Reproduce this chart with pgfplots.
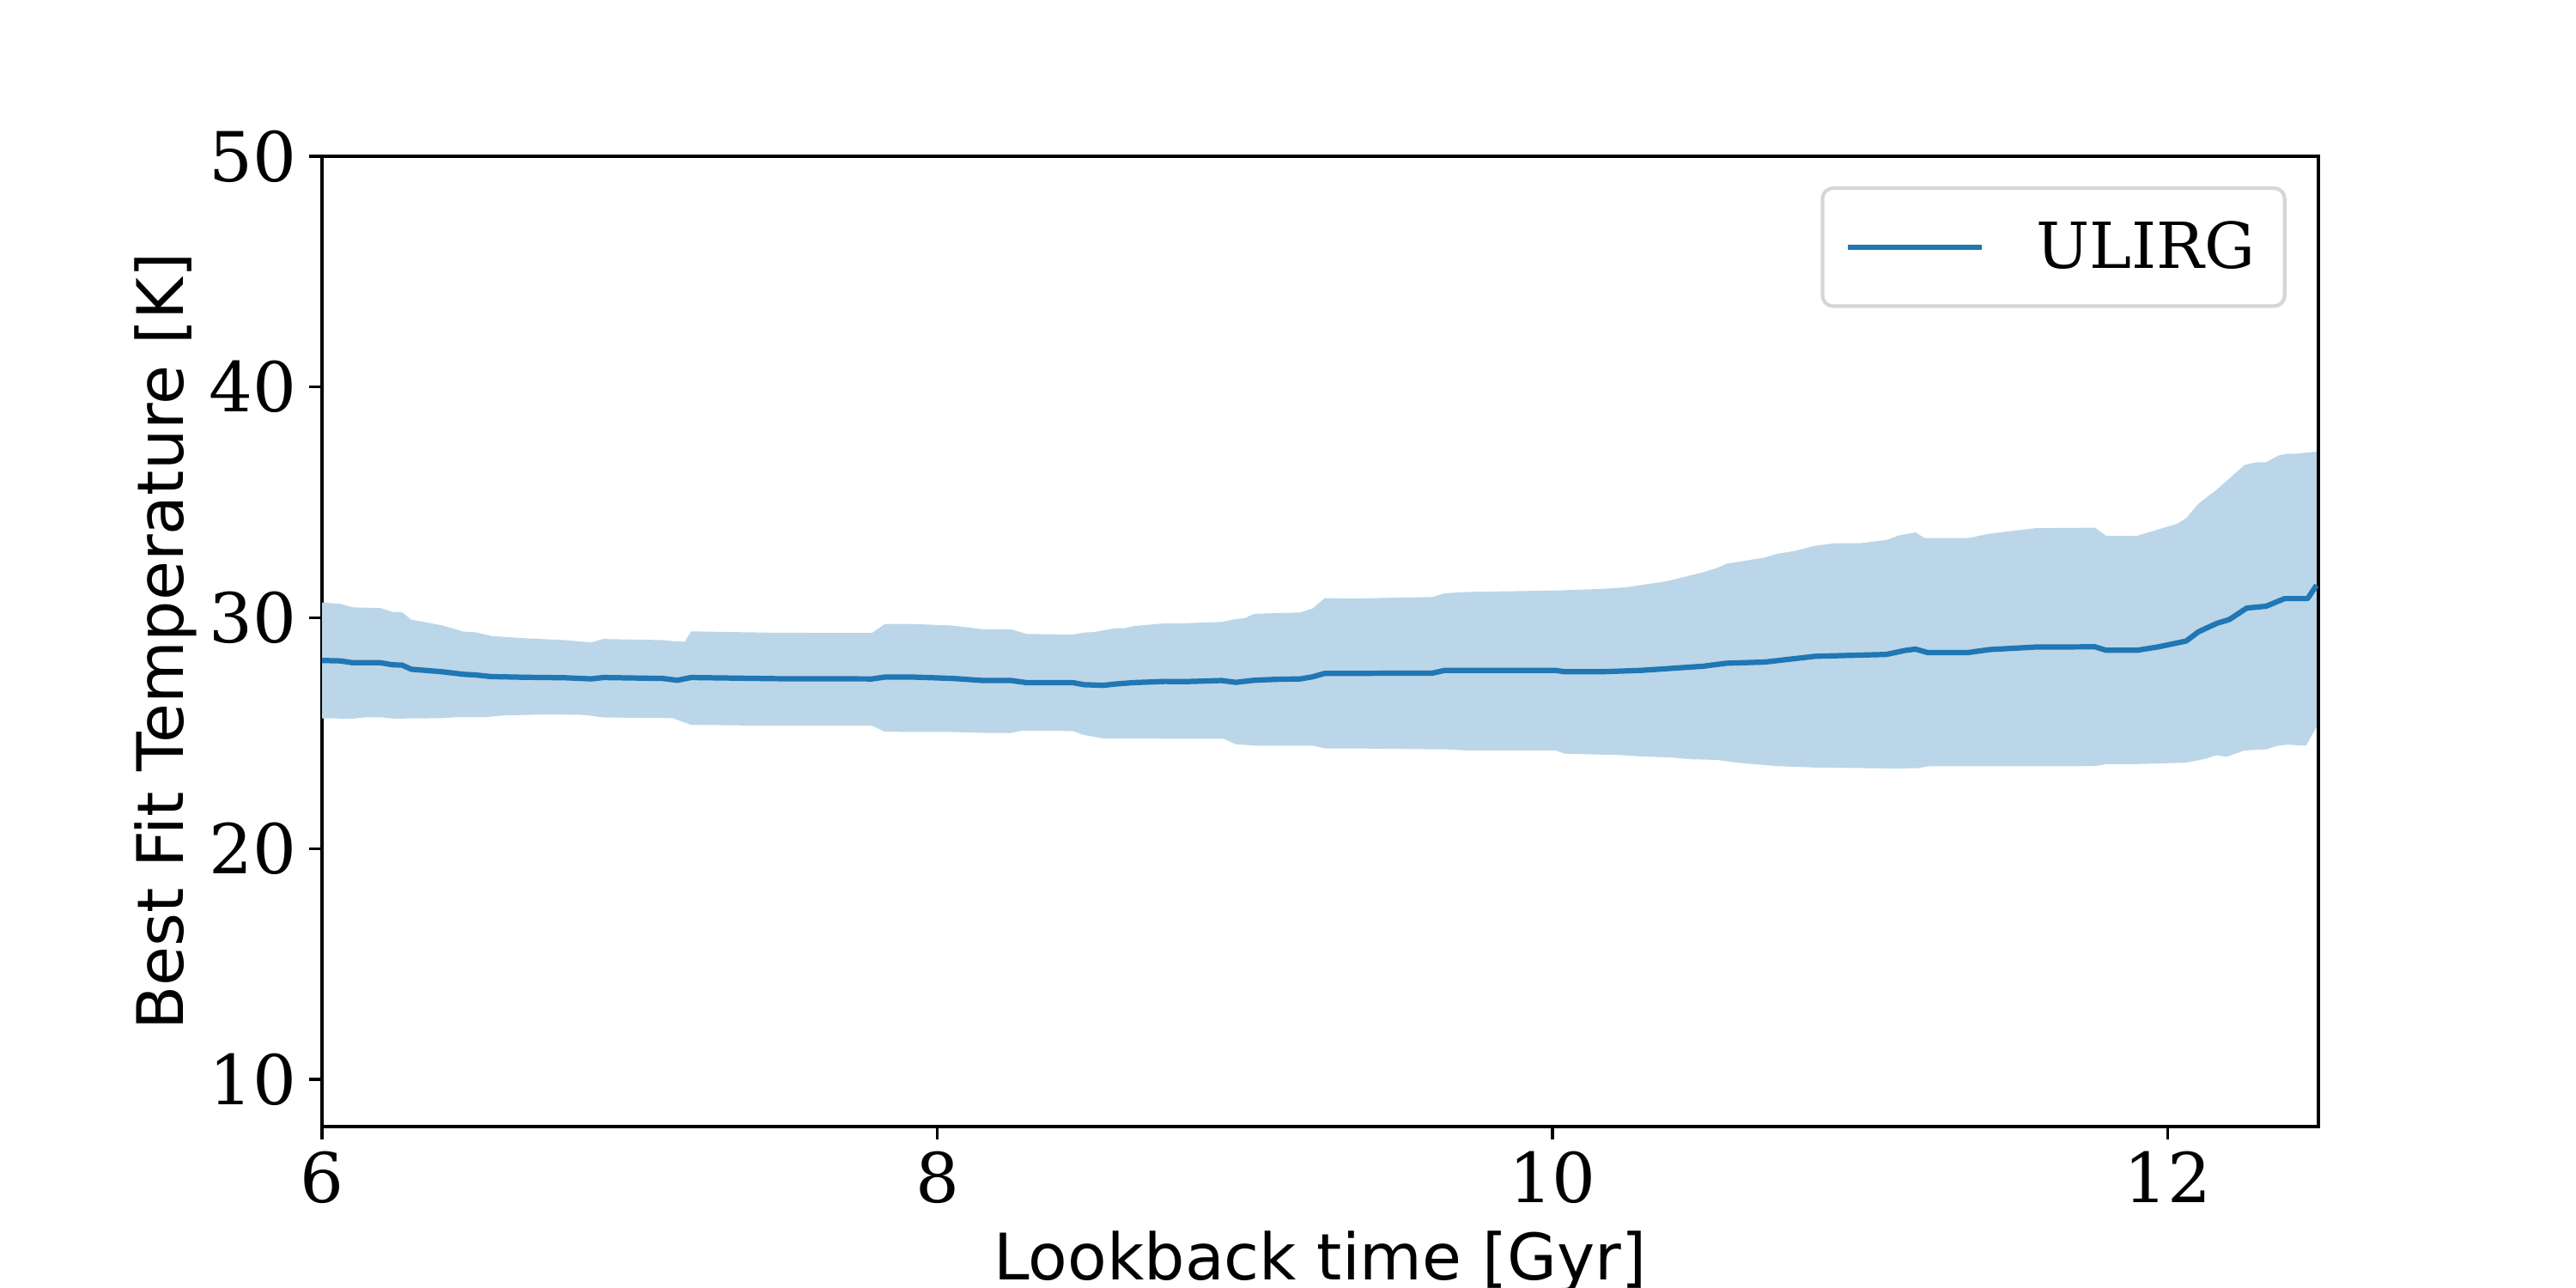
\documentclass[border=0pt]{standalone}
\usepackage{fontspec}
\setmainfont{DejaVu Serif}
\newfontfamily\labelfont{DejaVu Sans}
\usepackage{pgfplots}
\usepackage{pgfplotstable}
\pgfplotsset{compat=1.18}
\usepgfplotslibrary{fillbetween}
\definecolor{cULIRG}{HTML}{1F77B4}
\definecolor{cBand}{HTML}{BBD6E8}

% upper edge of the band
\pgfplotstableread{
t      T
6.00   30.66
6.06   30.60
6.10   30.45
6.19   30.42
6.23   30.25
6.26   30.24
6.29   29.92
6.39   29.67
6.46   29.40
6.50   29.37
6.55   29.21
6.66   29.11
6.79   29.03
6.875  28.93
6.915  29.08
7.107  29.03
7.155  28.97
7.18   28.97
7.20   29.41
7.476  29.35
7.788  29.34
7.83   29.73
7.92   29.73
8.05   29.66
8.15   29.50
8.24   29.50
8.29   29.30
8.44   29.27
8.477  29.36
8.51   29.38
8.58   29.55
8.61   29.55
8.64   29.64
8.74   29.76
8.80   29.76
8.925  29.82
8.97   29.94
9.00   29.98
9.03   30.17
9.10   30.20
9.18   30.23
9.22   30.40
9.26   30.85
9.35   30.83
9.61   30.90
9.65   31.06
9.73   31.12
10.01  31.18
10.16  31.25
10.24  31.32
10.37  31.58
10.49  31.97
10.534 32.15
10.566 32.34
10.69  32.61
10.73  32.77
10.79  32.90
10.854 33.12
10.92  33.23
11.00  33.23
11.085 33.37
11.13  33.58
11.18  33.70
11.21  33.45
11.35  33.45
11.42  33.64
11.48  33.74
11.57  33.88
11.764 33.90
11.80  33.55
11.90  33.55
11.97  33.83
12.03  34.07
12.06  34.32
12.10  34.94
12.16  35.56
12.25  36.62
12.29  36.74
12.32  36.74
12.36  37.03
12.39  37.11
12.42  37.11
12.484 37.20
}\hitab

% lower edge of the band
\pgfplotstableread{
t      T
6.00   25.64
6.10   25.63
6.146  25.69
6.19   25.69
6.23   25.63
6.39   25.65
6.45   25.70
6.53   25.69
6.594  25.77
6.739  25.81
6.851  25.79
6.915  25.68
7.14   25.65
7.20   25.36
7.476  25.32
7.788  25.32
7.83   25.06
8.05   25.05
8.15   25.01
8.24   25.01
8.277  25.11
8.44   25.09
8.477  24.92
8.54   24.77
8.73   24.76
8.93   24.76
8.97   24.52
9.03   24.46
9.22   24.46
9.26   24.34
9.35   24.34
9.61   24.30
9.65   24.30
9.72   24.25
10.01  24.25
10.04  24.11
10.22  24.05
10.29  23.99
10.38  23.95
10.45  23.87
10.534 23.84
10.60  23.72
10.73  23.57
10.854 23.51
11.11  23.47
11.187 23.48
11.22  23.56
11.764 23.57
11.80  23.66
11.90  23.66
12.06  23.72
12.12  23.88
12.16  24.05
12.19  23.97
12.25  24.25
12.32  24.30
12.36  24.46
12.39  24.50
12.45  24.46
12.484 25.27
}\lotab

% median
\pgfplotstableread{
t      T
6.00   28.15
6.06   28.13
6.10   28.05
6.19   28.05
6.23   27.96
6.26   27.95
6.29   27.77
6.39   27.66
6.46   27.55
6.50   27.52
6.55   27.45
6.66   27.42
6.79   27.40
6.875  27.35
6.915  27.41
7.107  27.37
7.155  27.29
7.20   27.41
7.476  27.36
7.788  27.35
7.83   27.43
7.92   27.43
8.05   27.37
8.15   27.28
8.24   27.28
8.29   27.19
8.44   27.19
8.477  27.10
8.54   27.07
8.58   27.13
8.64   27.19
8.74   27.24
8.80   27.23
8.925  27.28
8.97   27.20
9.03   27.29
9.10   27.33
9.18   27.35
9.22   27.44
9.26   27.59
9.35   27.59
9.61   27.60
9.65   27.72
10.01  27.72
10.04  27.66
10.16  27.66
10.29  27.72
10.49  27.90
10.566 28.03
10.69  28.08
10.854 28.33
11.085 28.41
11.149 28.59
11.18  28.64
11.22  28.49
11.35  28.49
11.42  28.62
11.57  28.73
11.764 28.74
11.80  28.59
11.90  28.59
11.97  28.74
12.06  28.99
12.10  29.39
12.16  29.76
12.20  29.92
12.257 30.42
12.32  30.50
12.38  30.83
12.455 30.83
12.484 31.41
}\medtab

\begin{document}
\begin{tikzpicture}
\begin{axis}[
  at={(0,0)}, anchor=south west,
  width=7.75in, height=3.7667in, scale only axis,
  xmin=6, xmax=12.49, ymin=7.95, ymax=50,
  xtick={6,8,10,12}, ytick={10,20,30,40,50},
  tick pos=left, tick align=outside, major tick length=3.5pt,
  tick style={line width=0.8pt, black},
  axis line style={line width=0.8pt},
  /pgf/number format/assume math mode=true,
  tick label style={font=\fontsize{19.3}{23}\selectfont},
  xlabel={Lookback time [Gyr]},
  ylabel={Best Fit Temperature [K]},
  label style={font=\labelfont\fontsize{18}{22}\selectfont},
  xlabel style={at={(axis description cs:0.5,-0.107)}, anchor=north, inner sep=0pt},
  ylabel style={at={(axis description cs:-0.0624,0.5)}, anchor=south, inner sep=0pt},
  legend cell align=left,
  legend style={at={(0.984,0.969)}, anchor=north east, draw=black!16,
                line width=1pt, rounded corners=3pt, fill=white,
                font=\fontsize{17.8}{21}\selectfont,
                nodes={inner sep=0pt}, column sep=14.5pt,
                inner xsep=6.3pt, inner ysep=9.2pt},
  legend image code/.code={\draw[#1, line width=1.5pt] (0pt,0pt) -- (37.6pt,0pt);},
]
\addplot[draw=none, name path=hi, forget plot] table[x=t, y=T] {\hitab};
\addplot[draw=none, name path=lo, forget plot] table[x=t, y=T] {\lotab};
\addplot[cBand, forget plot] fill between[of=hi and lo];
\addplot[cULIRG, line width=1.5pt, line join=round] table[x=t, y=T] {\medtab};
\addlegendentry{ULIRG\hspace*{2pt}}
\end{axis}
\pgfresetboundingbox
\useasboundingbox (-1.25in,-0.6267in) rectangle (8.75in,4.3733in);
\end{tikzpicture}
\end{document}
